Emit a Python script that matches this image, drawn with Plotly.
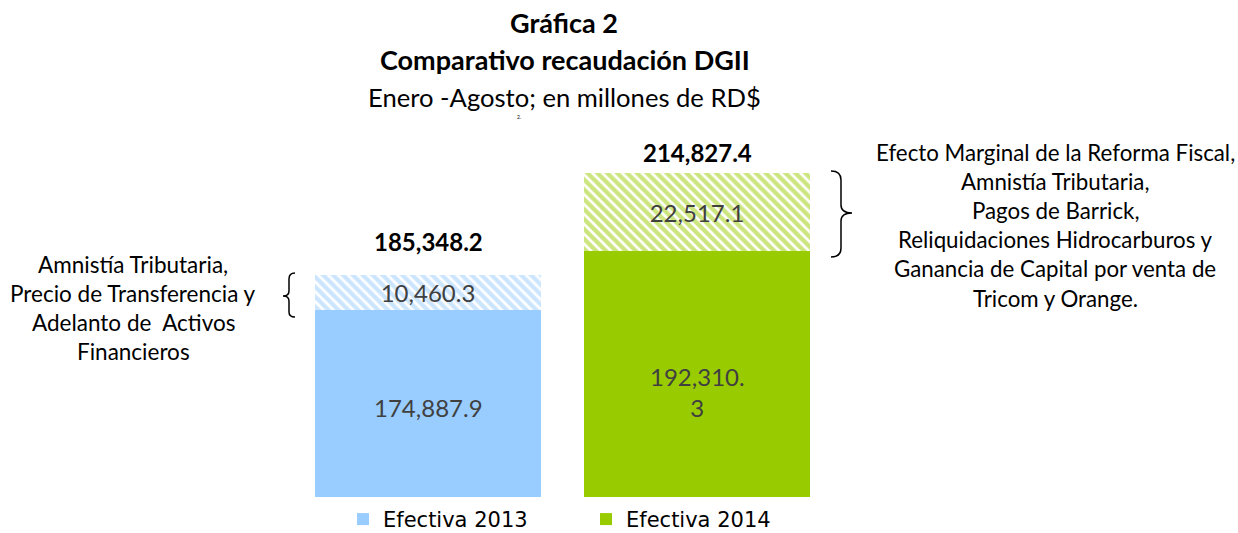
import plotly.graph_objects as go

# ---- data ----
categories = ["Efectiva 2013", "Efectiva 2014"]
base_values = [174887.9, 192310.3]
extra_values = [10460.3, 22517.1]
totals = [185348.2, 214827.4]
base_colors = ["#99CCFF", "#99CC00"]

left_note = ["Amnistía Tributaria,", "Precio de Transferencia y",
             "Adelanto de  Activos", "Financieros"]
right_note = ["Efecto Marginal de la Reforma Fiscal,", "Amnistía Tributaria,",
              "Pagos de Barrick,", "Reliquidaciones Hidrocarburos y",
              "Ganancia de Capital por venta de", "Tricom y Orange."]

W, H = 1238, 533
FONT = "Lato"
LABEL_GRAY = "#404040"

# axis geometry
spacing = 269.0
x_center0 = 428.0
y_min = 120500
px_per_unit = 0.00343
plot_top, plot_bottom = 130, 497
y_max = y_min + (plot_bottom - plot_top) / px_per_unit


def fx(px):
    return px / W


def fy(py):
    return 1 - py / H


def fmt(v):
    return f"{v:,.1f}"


fig = go.Figure()

# base (solid) bars
for i, cat in enumerate(categories):
    fig.add_trace(go.Bar(
        x=[cat], y=[base_values[i]], name=cat,
        marker=dict(color=base_colors[i], line=dict(width=0)),
        hoverinfo="skip", showlegend=True, legendgroup=cat,
    ))

# hatched extra bars
for i, cat in enumerate(categories):
    fig.add_trace(go.Bar(
        x=[cat], y=[extra_values[i]], name=cat,
        marker=dict(color="white", line=dict(width=0),
                    pattern=dict(shape="\\", fgcolor=base_colors[i],
                                 bgcolor="white", size=7, solidity=0.62,
                                 fillmode="overlay")),
        text=[fmt(extra_values[i])], textposition="inside",
        insidetextanchor="middle", textangle=0, constraintext="none",
        insidetextfont=dict(family=FONT, size=24, color=LABEL_GRAY),
        hoverinfo="skip", showlegend=False, legendgroup=cat,
    ))

annotations = []
# labels of the solid parts (centred on the visible part of the bar)
base_shift = [-4, -18]
for i, cat in enumerate(categories):
    txt = fmt(base_values[i])
    if i == 1:
        txt = txt.replace(".", ".<br>")
    annotations.append(dict(
        x=cat, y=(y_min + base_values[i]) / 2, xref="x", yref="y", text=txt,
        showarrow=False, yanchor="middle", yshift=base_shift[i],
        font=dict(family=FONT, size=24, color=LABEL_GRAY)))

# totals above bars
total_shift = [17, 4]
for i, cat in enumerate(categories):
    annotations.append(dict(
        x=cat, y=totals[i], xref="x", yref="y", text=f"<b>{fmt(totals[i])}</b>",
        showarrow=False, yanchor="bottom", yshift=total_shift[i],
        font=dict(family=FONT, size=24, color="black")))

# titles
annotations += [
    dict(x=fx(564), y=fy(22), text="<b>Gráfica 2</b>", font=dict(size=27)),
    dict(x=fx(565), y=fy(60), text="<b>Comparativo recaudación DGII</b>", font=dict(size=27)),
    dict(x=fx(564), y=fy(97), text="Enero -Agosto; en millones de RD$", font=dict(size=25.6)),
    dict(x=fx(519), y=fy(117), text="2.", font=dict(size=5)),
]
for j, line in enumerate(left_note):
    annotations.append(dict(x=fx(133), y=fy(264 + 29.2 * j), text=line, font=dict(size=22.5)))
for j, line in enumerate(right_note):
    annotations.append(dict(x=fx(1055), y=fy(152 + 29.2 * j), text=line, font=dict(size=22.3)))

for a in annotations:
    a.setdefault("xref", "paper")
    a.setdefault("yref", "paper")
    a.setdefault("showarrow", False)
    a.setdefault("xanchor", "center")
    a.setdefault("yanchor", "middle")
    f = a.setdefault("font", {})
    f.setdefault("family", FONT)
    f.setdefault("color", "black")


def P(px, py):
    return f"{fx(px):.5f},{fy(py):.5f}"


left_brace = ("M " + P(295, 273) + " Q " + P(289, 273) + " " + P(289, 279) +
              " L " + P(289, 291) + " Q " + P(289, 296) + " " + P(283, 296) +
              " Q " + P(289, 296) + " " + P(289, 301) +
              " L " + P(289, 312) + " Q " + P(289, 317) + " " + P(295, 317))
right_brace = ("M " + P(831, 171) + " Q " + P(841, 171) + " " + P(841, 180) +
               " L " + P(841, 205) + " Q " + P(841, 213) + " " + P(852, 213) +
               " Q " + P(841, 213) + " " + P(841, 221) +
               " L " + P(841, 248) + " Q " + P(841, 257) + " " + P(831, 257))

shapes = [
    dict(type="path", path=left_brace, xref="paper", yref="paper",
         line=dict(color="black", width=1.5)),
    dict(type="path", path=right_brace, xref="paper", yref="paper",
         line=dict(color="black", width=1.5)),
]

fig.update_layout(
    width=W, height=H,
    margin=dict(l=0, r=0, t=0, b=0, autoexpand=False),
    paper_bgcolor="white", plot_bgcolor="white",
    barmode="stack", bargap=0.16,
    font=dict(family=FONT, color="black"),
    xaxis=dict(visible=False, type="category",
               range=[-x_center0 / spacing, (W - x_center0) / spacing]),
    yaxis=dict(visible=False, range=[y_min, y_max],
               domain=[1 - plot_bottom / H, 1 - plot_top / H]),
    showlegend=True,
    legend=dict(orientation="h", x=fx(343), y=-0.013, xanchor="left", yanchor="bottom",
                font=dict(family="DejaVu Sans", size=21, color="black"),
                traceorder="normal", entrywidth=198, entrywidthmode="pixels",
                bgcolor="rgba(0,0,0,0)", borderwidth=0),
    annotations=annotations,
    shapes=shapes,
)

fig.write_html(
    "out.html",
    config={"displayModeBar": False},
    post_script="document.body.style.margin='0px';document.body.style.overflow='hidden';",
)
